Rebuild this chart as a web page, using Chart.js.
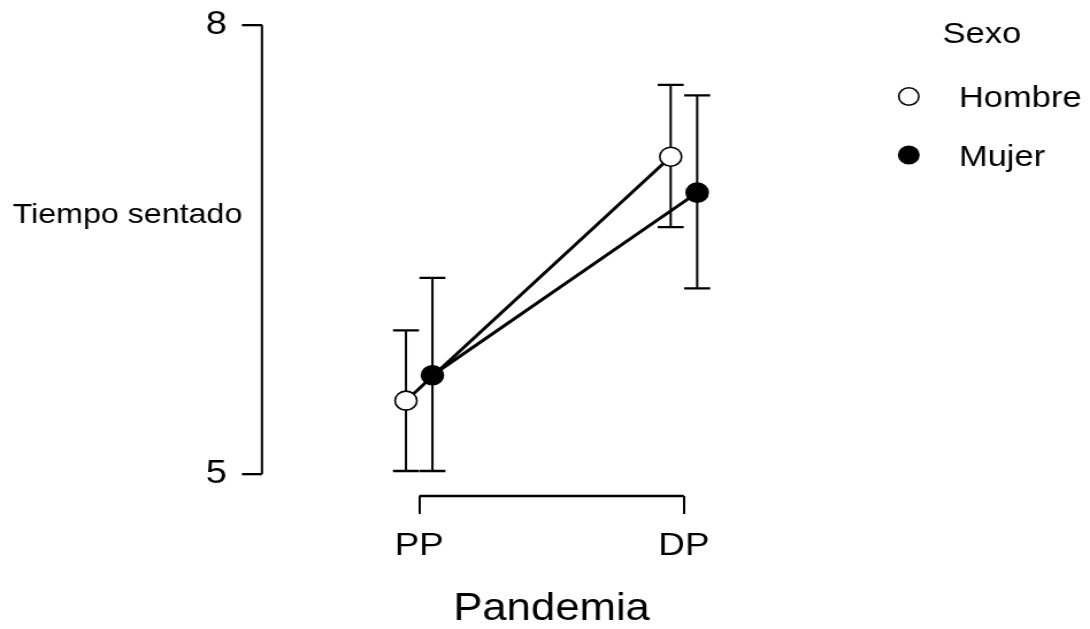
<!DOCTYPE html>
<html><head><meta charset="utf-8">
<script src="https://cdn.jsdelivr.net/npm/chart.js@4/dist/chart.umd.min.js"></script>
<style>
html,body{margin:0;padding:0;background:#fff;overflow:hidden;}
#wrap{width:948px;height:629px;transform:scaleX(1.1498);transform-origin:0 0;}
</style></head><body>
<div id="wrap"><canvas id="c"></canvas></div>
<script>
const categories = ['PP', 'DP'];
const seriesNames = ['Hombre', 'Mujer'];
const hombreMean  = [5.49, 7.12];
const hombreLower = [5.02, 6.65];
const hombreUpper = [5.96, 7.60];
const mujerMean   = [5.66, 6.88];
const mujerLower  = [5.02, 6.24];
const mujerUpper  = [6.31, 7.53];
const yTicks = [5, 8];
const legendTitle = 'Sexo';
const xTitle = 'Pandemia';
const yTitle = 'Tiempo sentado';

const F = '"Liberation Sans", Arial, sans-serif';
const dodge = 0.05;

function pts(means, shift) {
  return means.map((m, i) => ({x: i + 1 + shift, y: m}));
}

const errorBars = {
  id: 'errorBars',
  beforeDatasetsDraw(chart) {
    const ctx = chart.ctx, xs = chart.scales.x, ys = chart.scales.y;
    ctx.save();
    ctx.strokeStyle = '#000';
    chart.data.datasets.forEach(ds => {
      ds.data.forEach((p, i) => {
        const x = xs.getPixelForValue(p.x);
        const y1 = ys.getPixelForValue(ds.lower[i]);
        const y2 = ys.getPixelForValue(ds.upper[i]);
        ctx.lineWidth = 2;
        ctx.beginPath(); ctx.moveTo(x, y1); ctx.lineTo(x, y2); ctx.stroke();
        ctx.lineWidth = 2.3;
        ctx.beginPath();
        ctx.moveTo(x - 11.3, y1); ctx.lineTo(x + 11.3, y1);
        ctx.moveTo(x - 11.3, y2); ctx.lineTo(x + 11.3, y2);
        ctx.stroke();
      });
    });
    ctx.restore();
  }
};

const frame = {
  id: 'frame',
  afterDraw(chart) {
    const ctx = chart.ctx, xs = chart.scales.x, ys = chart.scales.y, a = chart.chartArea;
    ctx.save();
    ctx.strokeStyle = '#000';
    ctx.lineWidth = 2;
    ctx.beginPath();
    ctx.moveTo(a.left, ys.getPixelForValue(yTicks[0]));
    ctx.lineTo(a.left, ys.getPixelForValue(yTicks[yTicks.length - 1]));
    ctx.stroke();
    ctx.lineWidth = 2.3;
    ctx.beginPath();
    ctx.moveTo(xs.getPixelForValue(1), a.bottom);
    ctx.lineTo(xs.getPixelForValue(categories.length), a.bottom);
    ctx.stroke();
    ctx.restore();
  }
};

const texts = {
  id: 'texts',
  afterDraw(chart) {
    const ctx = chart.ctx;
    ctx.save();
    ctx.fillStyle = '#000';
    ctx.textAlign = 'left';
    ctx.textBaseline = 'alphabetic';
    ctx.font = '28px ' + F;
    ctx.fillText(yTitle, 11, 223);
    ctx.font = '30px ' + F;
    ctx.fillText(legendTitle, 819.7, 43);
    chart.data.datasets.forEach((ds, i) => {
      const cy = 96.5 + i * 58.5;
      ctx.beginPath();
      ctx.arc(790.4, cy, 8.7, 0, Math.PI * 2);
      ctx.fillStyle = ds.pointBackgroundColor;
      ctx.fill();
      ctx.lineWidth = 1.6;
      ctx.strokeStyle = '#000';
      ctx.stroke();
      ctx.fillStyle = '#000';
      ctx.fillText(ds.label, 833.9, cy + 10.5);
    });
    ctx.restore();
  }
};

new Chart(document.getElementById('c'), {
  type: 'line',
  data: {
    datasets: [
      {label: seriesNames[0], data: pts(hombreMean, -dodge), lower: hombreLower, upper: hombreUpper,
       borderColor: '#000', borderWidth: 3, pointRadius: 9.5, pointBorderWidth: 1.6,
       pointBackgroundColor: '#fff', pointBorderColor: '#000', fill: false, tension: 0},
      {label: seriesNames[1], data: pts(mujerMean, dodge), lower: mujerLower, upper: mujerUpper,
       borderColor: '#000', borderWidth: 3, pointRadius: 9.5, pointBorderWidth: 1.6,
       pointBackgroundColor: '#000', pointBorderColor: '#000', fill: false, tension: 0}
    ]
  },
  options: {
    responsive: true,
    maintainAspectRatio: false,
    animation: false,
    layout: {padding: {left: 0, right: 216.4, top: 25, bottom: 0}},
    plugins: {legend: {display: false}, tooltip: {enabled: false}},
    scales: {
      x: {
        type: 'linear', min: 0.406, max: 2.594,
        afterBuildTicks(s) { s.ticks = categories.map((c, i) => ({value: i + 1})); },
        ticks: {callback: v => categories[Math.round(v) - 1], color: '#000',
                font: {size: 32, family: F}, padding: 13, autoSkip: false, maxRotation: 0},
        grid: {drawOnChartArea: false, tickLength: 18, color: '#000', lineWidth: 2},
        border: {display: false},
        title: {display: true, text: xTitle, color: '#000',
                font: {size: 38, family: F, lineHeight: 1}, padding: {top: 0, bottom: 0}},
        afterFit(s) { s.height = 133; }
      },
      y: {
        type: 'linear', min: 4.853, max: 8,
        afterBuildTicks(s) { s.ticks = yTicks.map(v => ({value: v})); },
        ticks: {color: '#000', font: {size: 33, family: F, lineHeight: 0.6}, padding: 13},
        grid: {drawOnChartArea: false, tickLength: 17.4, color: '#000', lineWidth: 2.3},
        border: {display: false},
        afterFit(s) { s.width = 227.8; }
      }
    }
  },
  plugins: [errorBars, frame, texts]
});
</script>
</body></html>
